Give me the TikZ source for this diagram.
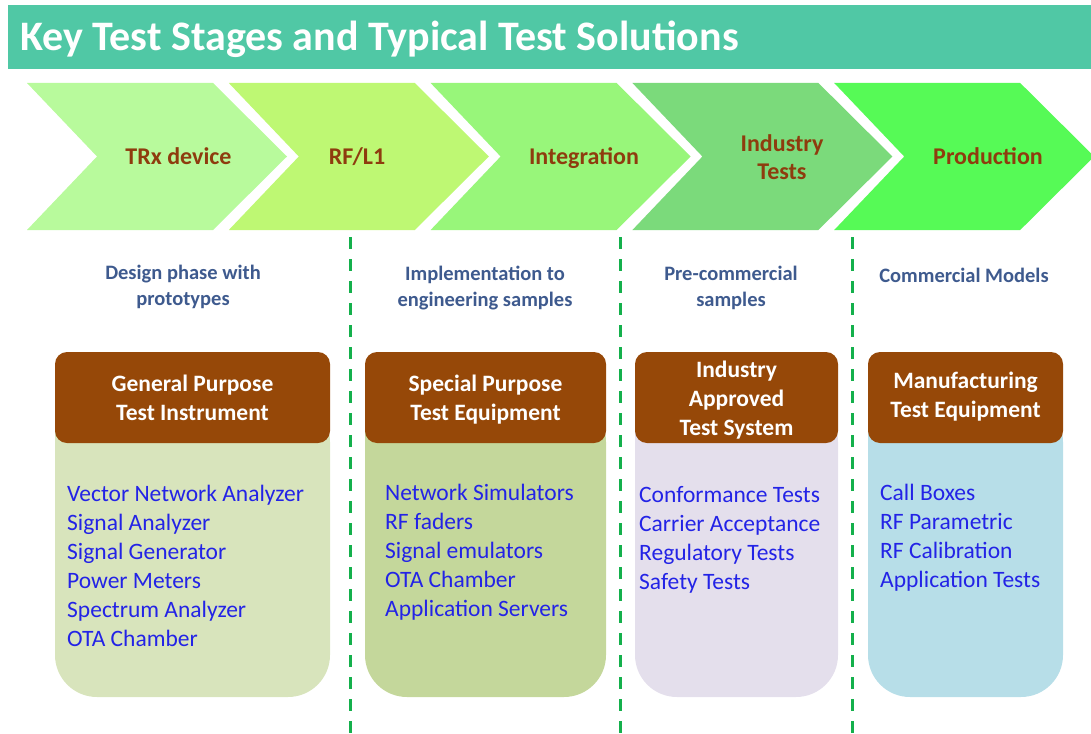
\documentclass[tikz,border=0pt]{standalone}
\usepackage{fontspec}
\setmainfont{Carlito}
\usepackage{tikz}
\usetikzlibrary{positioning}
\definecolor{bannerbg}{HTML}{50C8A5}
\definecolor{chevA}{HTML}{B8FA9C}
\definecolor{chevB}{HTML}{BEF873}
\definecolor{chevC}{HTML}{98F67A}
\definecolor{chevD}{HTML}{7BDA7B}
\definecolor{chevE}{HTML}{56FA56}
\definecolor{stagebrown}{HTML}{8E3C0E}
\definecolor{hdrbrown}{HTML}{964808}
\definecolor{phaseblue}{HTML}{3E5A8E}
\definecolor{itemblue}{HTML}{2323E6}
\definecolor{sepgreen}{HTML}{14B04C}
\definecolor{bodyA}{HTML}{D8E4BC}
\definecolor{bodyB}{HTML}{C4D79B}
\definecolor{bodyC}{HTML}{E4DFEC}
\definecolor{bodyD}{HTML}{B7DEE8}

\begin{document}
\begin{tikzpicture}[x=1pt, y=-1pt,
  stagelabel/.style={text=stagebrown, font=\fontsize{24}{28}\selectfont\bfseries, align=center, inner sep=0pt},
  phaselabel/.style={text=phaseblue, font=\fontsize{20.5}{26}\selectfont\bfseries, align=center, inner sep=0pt},
  hdrtext/.style={text=white, font=\fontsize{23.5}{29}\selectfont\bfseries, align=center, inner sep=0pt},
  item/.style={text=itemblue, font=\fontsize{23.5}{29}\selectfont, anchor=base west, inner sep=0pt},
  sepline/.style={sepgreen, line width=3pt, dash pattern=on 12pt off 10pt}]
  \useasboundingbox (0,0) rectangle (1091,733);

  % Title banner
  \fill[bannerbg] (8,5) rectangle (1091,69);
  \node[anchor=base west, inner sep=0pt, text=white, font=\fontsize{42}{48}\selectfont\bfseries] (title) at (20,51) {Key Test Stages and Typical Test Solutions};

  % Stage chevrons
  \foreach \i/\col in {0/chevA, 1/chevB, 2/chevC, 3/chevD, 4/chevE} {
    \fill[\col] ({27+201.8*\i}, 83) -- ({213+201.8*\i}, 83) -- ({287+201.8*\i}, 156.5)
      -- ({213+201.8*\i}, 230) -- ({27+201.8*\i}, 230) -- ({97+201.8*\i}, 156.5) -- cycle;
  }
  \node[stagelabel] (trx)   at (178.5,156.5) {TRx device};
  \node[stagelabel] (rfl1)  at (357,156.5) {RF/L1};
  \node[stagelabel] (integ) at (584,158) {Integration};
  \node[stagelabel] (indus) at (782,157) {Industry\\Tests};
  \node[stagelabel] (prod)  at (988,156.5) {Production};

  % Phase separators
  \foreach \x in {350, 620, 852} {
    \draw[sepline] (\x,237) -- (\x,733);
  }

  % Phase descriptions
  \node[phaselabel] (design)  at (183,287) {Design phase with\\prototypes};
  \node[phaselabel] (implem)  at (485,288) {Implementation to\\engineering samples};
  \node[phaselabel] (precom)  at (731,288) {Pre-commercial\\samples};
  \node[phaselabel] (commer)  at (964,275) {Commercial Models};

  % Solution boxes: body, then header on top
  \foreach \xa/\xb/\col in {55/330/bodyA, 365/606/bodyB, 635/838/bodyC, 868/1063/bodyD} {
    \fill[\col] (\xa,400) [rounded corners=42pt] -- (\xa,697) -- (\xb,697) -- (\xb,400) [sharp corners] -- cycle;
    \fill[hdrbrown, rounded corners=12pt] (\xa,352) rectangle (\xb,443);
  }
  \node[hdrtext] (gp-head)  at (192.5,398) {General Purpose\\Test Instrument};
  \node[hdrtext] (sp-head)  at (485.5,400) {Special Purpose\\Test Equipment};
  \node[hdrtext] (ia-head)  at (736.5,400) {Industry\\Approved\\Test System};
  \node[hdrtext] (mf-head)  at (965.5,397) {Manufacturing\\Test Equipment};

  % Typical solutions
  \foreach \txt [count=\k] in {Vector Network Analyzer, Signal Analyzer, Signal Generator, Power Meters, Spectrum Analyzer, OTA Chamber}
    \node[item] (gp-\k) at (67,{501+29*(\k-1)}) {\txt};
  \foreach \txt [count=\k] in {Network Simulators, RF faders, Signal emulators, OTA Chamber, Application Servers}
    \node[item] (sp-\k) at (385,{500+29*(\k-1)}) {\txt};
  \foreach \txt [count=\k] in {Conformance Tests, Carrier Acceptance, Regulatory Tests, Safety Tests}
    \node[item] (ia-\k) at (639,{502+29*(\k-1)}) {\txt};
  \foreach \txt [count=\k] in {Call Boxes, RF Parametric, RF Calibration, Application Tests}
    \node[item] (mf-\k) at (880,{500+29*(\k-1)}) {\txt};
\end{tikzpicture}
\end{document}
